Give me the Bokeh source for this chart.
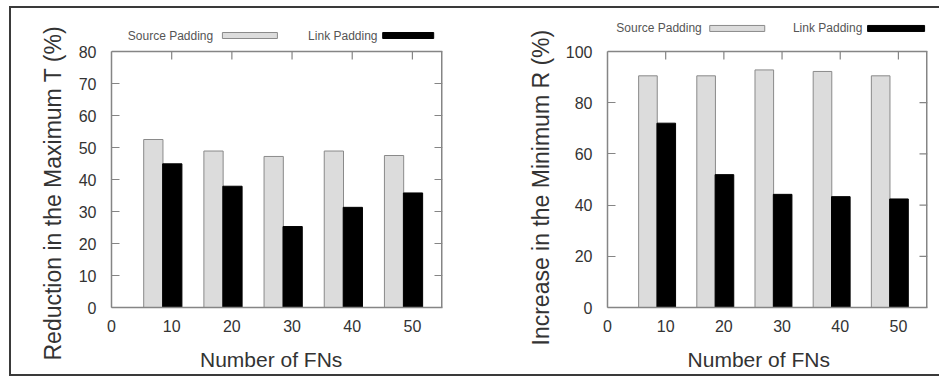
import math
from bokeh.plotting import figure
from bokeh.models import FixedTicker, Range1d, Label, ColumnDataSource, Title
from bokeh.layouts import row
from bokeh.transform import dodge
from bokeh.embed import file_html
from bokeh.resources import INLINE

# ---- data ----
fns = [10, 20, 30, 40, 50]
source_T = [52.5, 48.9, 47.2, 48.9, 47.5]
link_T = [44.9, 37.9, 25.3, 31.3, 35.8]
source_R = [90.5, 90.5, 92.8, 92.2, 90.5]
link_R = [72.0, 51.9, 44.2, 43.3, 42.4]
x_ticks = [0, 10, 20, 30, 40, 50]
yT_ticks = [0, 10, 20, 30, 40, 50, 60, 70, 80]
yR_ticks = [0, 20, 40, 60, 80, 100]
series_names = ["Source Padding", "Link Padding"]
x_title = "Number of FNs"
yT_title = "Reduction in the Maximum T (%)"
yR_title = "Increase in the Minimum R (%)"
XMAX = 55

FONT = "Liberation Sans"
TXT = "#333333"
FRAME = "#858585"
SRC_FILL = "#dcdcdc"
SRC_LINE = "#8a8a8a"
LINK_FILL = "#000000"
NB = "\u00a0"

MB_TOP = 14
FRAME_H = 285
DATA_H = 256
MB_BOTTOM = 67


def make(src_vals, link_vals, ymax, yticks, ylabel, mb_left, mb_right,
         ylab_standoff, ylab_offset, xlab_pad, leg):
    # extend the y range above ymax so the legend row sits inside the frame
    ytop = ymax * FRAME_H / DATA_H
    p = figure(width=464, height=MB_TOP + FRAME_H + MB_BOTTOM, x_range=Range1d(0, XMAX),
               y_range=Range1d(0, ytop),
               output_backend="svg", toolbar_location=None,
               min_border_left=mb_left, min_border_right=mb_right,
               min_border_top=MB_TOP, min_border_bottom=MB_BOTTOM)
    p.grid.visible = False
    p.outline_line_color = None
    p.background_fill_color = "white"
    p.border_fill_color = "white"

    src = ColumnDataSource(dict(fn=fns, s=src_vals, l=link_vals))
    p.vbar(x=dodge("fn", -3.05, range=p.x_range), top="s", width=3.2, source=src,
           fill_color=SRC_FILL, line_color=SRC_LINE, line_width=1)
    p.vbar(x=dodge("fn", 0.1, range=p.x_range), top="l", width=3.2, source=src,
           fill_color=LINK_FILL, line_color=LINK_FILL, line_width=1)

    # plot box: top and right border with inward mirrored ticks
    p.segment(x0=[0], y0=[ymax], x1=[XMAX], y1=[ymax], line_color=FRAME, line_width=1.5)
    p.segment(x0=[XMAX], y0=[0], x1=[XMAX], y1=[ymax], line_color=FRAME, line_width=3)
    p.ray(x=[XMAX] * len(yticks), y=yticks, length=8, length_units="screen", angle=math.pi,
          line_color=FRAME, line_width=1.2)
    p.ray(x=x_ticks[1:], y=[ymax] * (len(x_ticks) - 1), length=8, length_units="screen",
          angle=-math.pi / 2, line_color=FRAME, line_width=1.2)

    # bottom axis
    xa = p.xaxis[0]
    xa.ticker = FixedTicker(ticks=x_ticks)
    xa.bounds = (0, XMAX)
    xa.major_tick_in = 0
    xa.major_tick_out = 0
    xa.minor_tick_line_color = None
    xa.axis_line_color = FRAME
    xa.axis_line_width = 1.5
    xa.major_label_standoff = 12
    xa.major_label_text_font = FONT
    xa.major_label_text_font_size = "16px"
    xa.major_label_text_color = TXT
    xa.axis_label = x_title + NB * xlab_pad
    xa.axis_label_text_font = FONT
    xa.axis_label_text_font_size = "21px"
    xa.axis_label_text_font_style = "normal"
    xa.axis_label_text_color = TXT
    xa.axis_label_standoff = 13

    # left axis
    ya = p.yaxis[0]
    ya.ticker = FixedTicker(ticks=yticks)
    ya.bounds = (0, ymax)
    ya.major_tick_in = 8
    ya.major_tick_out = 0
    ya.major_tick_line_color = FRAME
    ya.minor_tick_line_color = None
    ya.axis_line_color = FRAME
    ya.axis_line_width = 1.5
    ya.major_label_standoff = 15
    ya.major_label_text_font = FONT
    ya.major_label_text_font_size = "16px"
    ya.major_label_text_color = TXT

    # y title as a side title, starting below the frame bottom as in the reference
    p.add_layout(Title(text=ylabel, align="left", offset=ylab_offset, standoff=ylab_standoff,
                       text_font=FONT, text_font_size="23px", text_font_style="normal",
                       text_color=TXT), "left")

    # legend (label then swatch), in the band above the plot box
    (sx, sy, sc, sw), (lx, lc, lw) = leg
    colors = [(SRC_FILL, SRC_LINE), (LINK_FILL, LINK_FILL)]
    for name, tx, cx, w, (fc, lcol) in zip(series_names, [sx, lx], [sc, lc], [sw, lw], colors):
        p.add_layout(Label(x=tx, y=sy, text=name, text_align="right", text_baseline="middle",
                           text_font=FONT, text_font_size="12px", text_color="#555555"))
        p.rect(x=[cx], y=[sy], width=w, height=6, width_units="screen", height_units="screen",
               fill_color=fc, line_color=lcol, line_width=1)
    return p


p1 = make(source_T, link_T, 80, yT_ticks, yT_title, 100, 33, 20, -53, 2,
          ((16.9, 85.0, 23.0, 55), (44.2, 49.3, 51)))
p2 = make(source_R, link_R, 100, yR_ticks, yR_title, 132, 12, 17, -38, 3,
          ((16.2, 109.0, 22.3, 55), (43.8, 49.6, 57)))

layout = row(p1, p2, styles={"border-top": "2px solid #3a3a3a", "border-bottom": "2px solid #3a3a3a",
                             "border-left": "2px solid #3a3a3a",
                             "margin-left": "9px", "margin-top": "6px"})

open("out.html", "w").write(file_html(layout, INLINE))
